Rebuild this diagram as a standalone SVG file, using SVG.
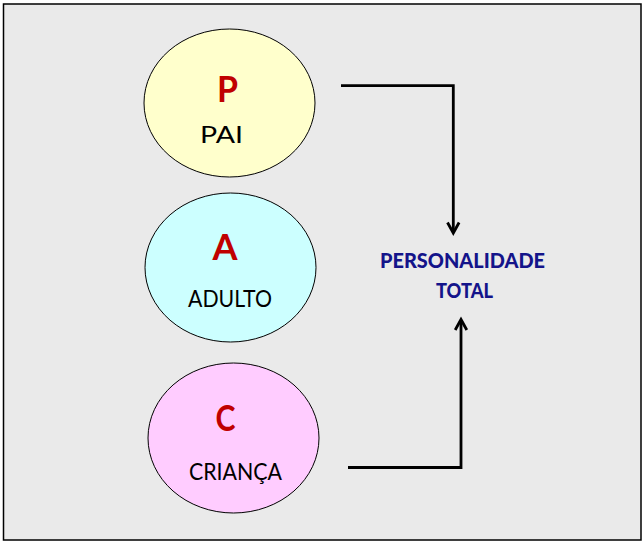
<svg xmlns="http://www.w3.org/2000/svg" width="644" height="546" viewBox="0 0 644 546">
<style>
.node ellipse{stroke:#000;stroke-width:1}
.letter{font-family:Lato,"Liberation Sans",sans-serif;font-weight:bold;font-size:37px;fill:#C00000}
.label{font-family:Lato,"Liberation Sans",sans-serif;font-size:24px;fill:#000}
.total{font-family:Lato,"Liberation Sans",sans-serif;font-weight:900;font-size:20.5px;fill:#14148A;text-anchor:middle}
.conn{fill:none;stroke:#000;stroke-width:2.8;stroke-linejoin:miter}
.head{fill:none;stroke:#000;stroke-width:2.8;stroke-linejoin:miter;stroke-linecap:butt}
</style>
<rect x="0" y="0" width="644" height="546" fill="#ffffff"/>
<rect x="3.5" y="4" width="637.5" height="536" fill="#EAEAEA" stroke="#000" stroke-width="1.5"/>
<g id="node-pai" class="node">
<ellipse cx="229.5" cy="103" rx="85.5" ry="74" fill="#FFFFCC"/>
<text class="letter" x="217" y="102" textLength="21" lengthAdjust="spacingAndGlyphs">P</text>
<text class="label" x="200" y="143" textLength="43" lengthAdjust="spacingAndGlyphs">PAI</text>
</g>
<g id="node-adulto" class="node">
<ellipse cx="230.5" cy="267.5" rx="85.5" ry="74.5" fill="#CCFFFF"/>
<text class="letter" x="212.5" y="260" textLength="25" lengthAdjust="spacingAndGlyphs">A</text>
<text class="label" x="188" y="307" textLength="84" lengthAdjust="spacingAndGlyphs">ADULTO</text>
</g>
<g id="node-crianca" class="node">
<ellipse cx="233.5" cy="438" rx="85.5" ry="75" fill="#FFCCFF"/>
<text class="letter" x="215.5" y="431" textLength="20" lengthAdjust="spacingAndGlyphs">C</text>
<text class="label" x="189" y="480" textLength="93" lengthAdjust="spacingAndGlyphs">CRIANÇA</text>
</g>
<g id="node-total">
<text class="total" x="462.5" y="268" textLength="165" lengthAdjust="spacingAndGlyphs">PERSONALIDADE</text>
<text class="total" x="464.5" y="298" textLength="57" lengthAdjust="spacingAndGlyphs">TOTAL</text>
</g>
<g id="connectors">
<polyline class="conn" points="341,85.7 453.3,85.7 453.3,232"/>
<polyline class="head" points="447.5,222.5 453.3,233 459.1,222.5"/>
<polyline class="conn" points="348,467.5 461,467.5 461,320"/>
<polyline class="head" points="455.2,330 461,319.5 466.8,330"/>
</g>
</svg>
